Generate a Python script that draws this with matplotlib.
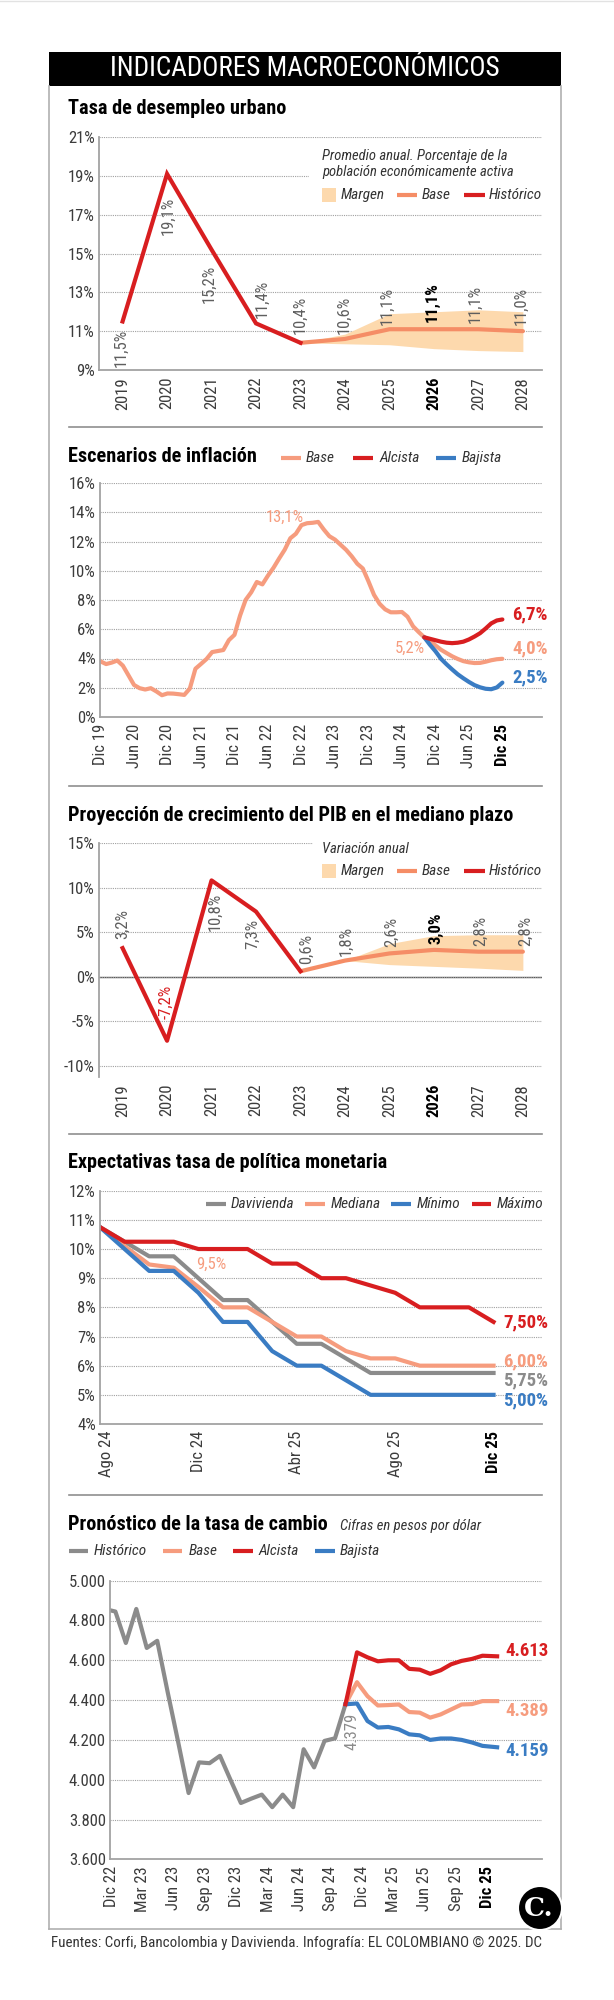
import matplotlib
matplotlib.use('Agg')
import matplotlib.pyplot as plt
import matplotlib.font_manager as fm
from matplotlib.lines import Line2D
from matplotlib.patches import Rectangle, Ellipse
from matplotlib.transforms import ScaledTranslation

# ---- fonts: look for a condensed face
names = {f.name for f in fm.fontManager.ttflist}
FONT, STRETCH = 'DejaVu Sans', 'normal'
for cand in ['Roboto Condensed', 'Liberation Sans Narrow']:
    if cand in names:
        FONT = cand
        break
else:
    for fam in ['Noto Sans', 'DejaVu Sans', 'Open Sans', 'Roboto']:
        if any(f.name == fam and str(f.stretch) != 'normal' for f in fm.fontManager.ttflist):
            FONT, STRETCH = fam, 'condensed'
            break
plt.rcParams['font.family'] = [FONT, 'DejaVu Sans']
plt.rcParams['font.stretch'] = STRETCH

# ---- data
years = [2019, 2020, 2021, 2022, 2023, 2024, 2025, 2026, 2027, 2028]
unemp_hist = [11.5, 19.1, 15.2, 11.4, 10.4]
unemp_base = [10.4, 10.6, 11.1, 11.1, 11.1, 11.0]
unemp_lo = [10.4, 10.35, 10.3, 10.1, 10.0, 9.95]
unemp_hi = [10.4, 10.85, 11.9, 12.0, 12.1, 12.0]

infl_hist = [3.80, 3.62, 3.72, 3.86, 3.51, 2.85, 2.19, 1.97, 1.88, 1.97, 1.75, 1.49, 1.61,
             1.60, 1.56, 1.51, 1.95, 3.30, 3.63, 3.97, 4.44, 4.51, 4.58, 5.26, 5.62,
             6.94, 8.01, 8.53, 9.23, 9.07, 9.67, 10.21, 10.84, 11.44, 12.22, 12.53, 13.12,
             13.25, 13.28, 13.34, 12.82, 12.36, 12.13, 11.78, 11.43, 10.99, 10.48, 10.15, 9.28,
             8.35, 7.74, 7.36, 7.16, 7.16, 7.18, 6.86, 6.20, 5.81, 5.45]
infl_base = [5.2, 4.9, 4.6, 4.37, 4.15, 3.97, 3.82, 3.74, 3.69, 3.7, 3.78, 3.88, 3.95, 3.98]
infl_alc = [5.45, 5.35, 5.25, 5.15, 5.08, 5.05, 5.08, 5.15, 5.3, 5.5, 5.73, 6.05, 6.4, 6.6, 6.67]
infl_baj = [5.45, 4.95, 4.5, 3.98, 3.6, 3.25, 2.92, 2.65, 2.4, 2.18, 2.03, 1.93, 1.9, 2.02, 2.35]
infl_ticks = ['Dic 19', 'Jun 20', 'Dic 20', 'Jun 21', 'Dic 21', 'Jun 22', 'Dic 22',
              'Jun 23', 'Dic 23', 'Jun 24', 'Dic 24', 'Jun 25', 'Dic 25']

pib_hist = [3.2, -7.2, 10.8, 7.3, 0.6]
pib_base = [0.6, 1.8, 2.6, 3.0, 2.8, 2.8]
pib_lo = [0.6, 1.8, 1.35, 1.15, 0.95, 0.7]
pib_hi = [0.6, 1.8, 3.7, 4.6, 4.7, 4.7]

tpm_davi = [10.75, 10.25, 9.75, 9.75, 9.0, 8.25, 8.25, 7.5, 6.75, 6.75, 6.25, 5.75, 5.75, 5.75, 5.75, 5.75, 5.75]
tpm_med = [10.75, 10.1, 9.47, 9.36, 8.7, 8.0, 8.0, 7.5, 7.0, 7.0, 6.5, 6.25, 6.25, 6.0, 6.0, 6.0, 6.0]
tpm_min = [10.75, 10.0, 9.25, 9.25, 8.5, 7.5, 7.5, 6.5, 6.0, 6.0, 5.5, 5.0, 5.0, 5.0, 5.0, 5.0, 5.0]
tpm_max = [10.75, 10.25, 10.25, 10.25, 10.0, 10.0, 10.0, 9.5, 9.5, 9.0, 9.0, 8.75, 8.5, 8.0, 8.0, 8.0, 7.5]
tpm_ticks = ['Ago 24', 'Dic 24', 'Abr 25', 'Ago 25', 'Dic 25']

fx_hist_m = [0, 0.4, 1.4, 2.4, 3.4, 4.4, 5.4, 6.4, 7.4, 8.4, 9.4, 10.4, 11.4, 12.4, 13.4,
             14.4, 15.4, 16.4, 17.4, 18.4, 19.4, 20.4, 21.4, 22.4]
fx_hist = [4850, 4845, 4687, 4858, 4662, 4698, 4440, 4190, 3933, 4087, 4083, 4120, 4000, 3883,
           3905, 3925, 3862, 3925, 3862, 4153, 4062, 4195, 4208, 4379]
fx_fc_m = [22.4, 23.5, 24.5, 25.5, 26.5, 27.5, 28.5, 29.5, 30.5, 31.5, 32.5, 33.5, 34.5, 35.5, 36.9]
fx_alc = [4379, 4640, 4615, 4595, 4600, 4600, 4557, 4553, 4532, 4550, 4580, 4597, 4607, 4623, 4620]
fx_base = [4379, 4490, 4420, 4373, 4375, 4378, 4340, 4337, 4312, 4328, 4353, 4378, 4380, 4395, 4395]
fx_baj = [4379, 4383, 4295, 4262, 4265, 4253, 4228, 4223, 4200, 4207, 4207, 4200, 4187, 4170, 4163]
fx_ticks = ['Dic 22', 'Mar 23', 'Jun 23', 'Sep 23', 'Dic 23', 'Mar 24', 'Jun 24', 'Sep 24',
            'Dic 24', 'Mar 25', 'Jun 25', 'Sep 25', 'Dic 25']

# ---- colours
RED = '#d81e20'
SALMON = '#f69c7e'
ORANGE = '#f58d66'
BLUE = '#3a7cc3'
GRAY = '#8b8b8b'
PEACH = '#fdd9ad'
TICK = '#3c3c3c'
LBL = '#5e5e5e'
GRID = '#a0a0a0'
LW = 3.0

W, H = 614, 2000
fig = plt.figure(figsize=(W / 100, H / 100), dpi=100)


def box(l, t, r, b):
    return [l / W, 1 - b / H, (r - l) / W, (b - t) / H]


def txt(x, y, s, **kw):
    kw.setdefault('va', 'center')
    return fig.text(x / W, 1 - y / H, s, **kw)


def seg(xs, ys, **kw):
    fig.add_artist(Line2D([x / W for x in xs], [1 - y / H for y in ys], **kw))


def pct(v):
    return ('%.1f' % v).replace('.', ',') + '%'


def style(ax, xlim, ylim, yt, ylab, xt, xlab, bold_idx, bottom=True):
    ax.set_xlim(xlim)
    ax.set_ylim(ylim)
    ax.set_yticks(yt)
    ax.set_yticklabels(ylab)
    ax.set_xticks(xt)
    ax.set_xticklabels(xlab, rotation=90)
    ax.tick_params(length=0, labelsize=12, colors=TICK)
    ax.tick_params(axis='y', pad=3)
    ax.tick_params(axis='x', pad=5)
    ax.get_xticklabels()[bold_idx].set_fontweight('bold')
    ax.get_xticklabels()[bold_idx].set_color('black')
    ax.grid(axis='y', color=GRID, linestyle=(0, (1, 1)), lw=0.8)
    ax.set_axisbelow(True)
    ax.patch.set_alpha(0)
    for s in ['top', 'right']:
        ax.spines[s].set_visible(False)
    ax.spines['left'].set_color('#a3a3a3')
    ax.spines['left'].set_linewidth(1.3)
    ax.spines['bottom'].set_color('#a3a3a3')
    ax.spines['bottom'].set_linewidth(1.3)
    ax.spines['bottom'].set_visible(bottom)


def legend_lines(items, y, size=11):
    for x0, x1, xt, col, lab in items:
        seg([x0, x1], [y, y], color=col, lw=LW, solid_capstyle='butt', zorder=4)
        txt(xt, y, lab, size=size, style='italic', color='#333333', zorder=4)


# ---- frame
fig.add_artist(Rectangle((49 / W, 1 - 86 / H), 512 / W, 34 / H, transform=fig.transFigure,
                         facecolor='black', edgecolor='none'))
txt(305, 69, 'INDICADORES MACROECONÓMICOS', size=19.5, color='white', ha='center')
seg([49, 49], [86, 1929], color='#b0b0b0', lw=1.2)
seg([561, 561], [86, 1929], color='#b0b0b0', lw=1.2)
seg([49, 561], [1929, 1929], color='#b0b0b0', lw=1.2)
for y in [427, 786, 1134, 1495]:
    seg([68.5, 542], [y, y], color='#8f8f8f', lw=1.2)
seg([0, W], [0.5, 0.5], color='#e2e2e2', lw=1)

TITLE = dict(size=14.6, weight='bold', color='black')

# ---- panel 1: desempleo
txt(68, 109, 'Tasa de desempleo urbano', **TITLE)
ax1 = fig.add_axes(box(99, 137, 542, 370))
ax1.fill_between(years[4:], unemp_lo, unemp_hi, color=PEACH, lw=0)
ax1.plot(years[4:], unemp_base, color=ORANGE, lw=LW, solid_capstyle='round')
ax1.plot(years[:5], unemp_hist, color=RED, lw=LW, solid_joinstyle='miter')
style(ax1, (2018.47, 2028.43), (9, 21), range(9, 22, 2), ['%d%%' % v for v in range(9, 22, 2)],
      years, [str(y) for y in years], 7)
u_vals = unemp_hist[:4] + unemp_base
u_off = [(-1.5, -7), (1.4, -23), (-2, -15), (6, 5), (0, 9), (-0.5, 5), (-2, 4), (-2, 7), (-3, 6), (-2, 6)]
for i, (yr, v) in enumerate(zip(years, u_vals)):
    dx, dy = u_off[i]
    ax1.annotate(pct(v), (yr, v), xytext=(dx * 0.72, dy * 0.72), textcoords='offset points',
                 rotation=90, ha='center', va='top' if dy < 0 else 'bottom', size=12,
                 color='black' if yr == 2026 else LBL, weight='bold' if yr == 2026 else 'normal')
fig.add_artist(Rectangle((309 / W, 1 - 206 / H), 236 / W, 60 / H, transform=fig.transFigure,
                         facecolor='white', edgecolor='none', zorder=3))
txt(322, 156, 'Promedio anual. Porcentaje de la', size=10.5, style='italic', color='#333333', zorder=4)
txt(322, 172, 'población económicamente activa', size=10.5, style='italic', color='#333333', zorder=4)
fig.add_artist(Rectangle((322 / W, 1 - 202 / H), 14 / W, 14 / H, transform=fig.transFigure,
                         facecolor=PEACH, edgecolor='none', zorder=4))
txt(341, 195, 'Margen', size=11, style='italic', color='#333333', zorder=4)
legend_lines([(397, 417, 422, ORANGE, 'Base'), (464, 485, 489, RED, 'Histórico')], 195)

# ---- panel 2: inflación
txt(68, 456, 'Escenarios de inflación', **TITLE)
legend_lines([(281, 301, 306, SALMON, 'Base'), (353, 373, 379, RED, 'Alcista'),
              (436, 456, 462, BLUE, 'Bajista')], 458)
ax2 = fig.add_axes(box(100, 483, 542, 717))
m_hist = list(range(len(infl_hist)))
m_fc = list(range(len(infl_hist) - 1, len(infl_hist) - 1 + len(infl_alc)))
ax2.plot(m_hist + m_fc[1:], infl_hist + infl_base, color=SALMON, lw=LW, solid_capstyle='round')
ax2.plot(m_fc, infl_baj, color=BLUE, lw=LW, solid_capstyle='round')
ax2.plot(m_fc, infl_alc, color=RED, lw=LW, solid_capstyle='round')
style(ax2, (-0.1, 79.1), (0, 16), range(0, 17, 2), ['%d%%' % v for v in range(0, 17, 2)],
      range(0, 73, 6), infl_ticks, 12)
txt(285, 517, pct(13.1), size=12, color=SALMON, ha='center')
txt(425, 648, pct(infl_base[0]), size=12, color=SALMON, ha='right')
txt(512, 614, pct(6.7), size=13.5, weight='bold', color=RED)
txt(512, 648, pct(4.0), size=13.5, weight='bold', color=SALMON)
txt(512, 677, pct(2.5), size=13.5, weight='bold', color=BLUE)

# ---- panel 3: PIB
txt(68, 816, 'Proyección de crecimiento del PIB en el mediano plazo', **TITLE)
ax3 = fig.add_axes(box(99, 843, 542, 1077))
ax3.fill_between(years[4:], pib_lo, pib_hi, color=PEACH, lw=0)
ax3.plot(years[4:], pib_base, color=ORANGE, lw=LW, solid_capstyle='round')
ax3.plot(years[:5], pib_hist, color=RED, lw=LW)
ax3.axhline(0, color='#555555', lw=1, zorder=0.5)
style(ax3, (2018.47, 2028.43), (-11.27, 15), range(-10, 16, 5), ['%d%%' % v for v in range(-10, 16, 5)],
      years, [str(y) for y in years], 7, bottom=False)
p_vals = pib_hist[:4] + pib_base
p_off = [(0.5, 9), (-0.6, 22), (3.3, -12), (-3.5, -7), (6.3, 7), (1.5, 5), (2, 6), (1.8, 6), (2.3, 6), (2.8, 6)]
for i, (yr, v) in enumerate(zip(years, p_vals)):
    dx, dy = p_off[i]
    col = RED if v < 0 else ('black' if yr == 2026 else LBL)
    ax3.annotate(pct(v), (yr, v), xytext=(dx * 0.72, dy * 0.72), textcoords='offset points',
                 rotation=90, ha='center', va='top' if dy < 0 else 'bottom', size=12,
                 color=col, weight='bold' if yr == 2026 else 'normal')
fig.add_artist(Rectangle((313 / W, 1 - 882 / H), 232 / W, 45 / H, transform=fig.transFigure,
                         facecolor='white', edgecolor='none', zorder=3))
txt(322, 849, 'Variación anual', size=10.5, style='italic', color='#333333', zorder=4)
fig.add_artist(Rectangle((322 / W, 1 - 878 / H), 14 / W, 14 / H, transform=fig.transFigure,
                         facecolor=PEACH, edgecolor='none', zorder=4))
txt(341, 871, 'Margen', size=11, style='italic', color='#333333', zorder=4)
legend_lines([(397, 417, 422, ORANGE, 'Base'), (464, 485, 489, RED, 'Histórico')], 871)

# ---- panel 4: TPM
txt(68, 1162, 'Expectativas tasa de política monetaria', **TITLE)
ax4 = fig.add_axes(box(100, 1190.7, 542, 1424))
m4 = list(range(len(tpm_max)))
ax4.plot(m4, tpm_davi, color=GRAY, lw=LW)
ax4.plot(m4, tpm_med, color=SALMON, lw=LW)
ax4.plot(m4, tpm_min, color=BLUE, lw=LW)
ax4.plot(m4, tpm_max, color=RED, lw=LW)
style(ax4, (0, 17.97), (4, 12), range(4, 13), ['%d%%' % v for v in range(4, 13)],
      range(0, 17, 4), tpm_ticks, 4)
lab0 = ax4.get_xticklabels()[0]
lab0.set_transform(lab0.get_transform() + ScaledTranslation(0.065, 0, fig.dpi_scale_trans))
legend_lines([(206, 226, 231, GRAY, 'Davivienda'), (305, 325, 331, SALMON, 'Mediana'),
              (391.5, 411, 417, BLUE, 'Mínimo'), (472, 491, 496.5, RED, 'Máximo')], 1204)
txt(211, 1264, pct(tpm_med[2]), size=12, color=SALMON, ha='center')
for y, v, c in [(1322, tpm_max[-1], RED), (1361, tpm_med[-1], SALMON),
                (1380, tpm_davi[-1], GRAY), (1400, tpm_min[-1], BLUE)]:
    txt(503, y, ('%.2f' % v).replace('.', ',') + '%', size=13.5, weight='bold', color=c)

# ---- panel 5: tasa de cambio
txt(68, 1524, 'Pronóstico de la tasa de cambio', **TITLE)
txt(340, 1526, 'Cifras en pesos por dólar', size=10.5, style='italic', color='#333333')
legend_lines([(68.5, 88, 94, GRAY, 'Histórico'), (162.5, 182, 189, SALMON, 'Base'),
              (233, 252.5, 258, RED, 'Alcista'), (315, 335, 340, BLUE, 'Bajista')], 1551)
ax5 = fig.add_axes(box(110, 1580.7, 542, 1859.3))
ax5.plot(fx_hist_m, fx_hist, color=GRAY, lw=LW)
ax5.plot(fx_fc_m, fx_base, color=SALMON, lw=LW)
ax5.plot(fx_fc_m, fx_baj, color=BLUE, lw=LW)
ax5.plot(fx_fc_m, fx_alc, color=RED, lw=LW)
yt5 = list(range(3600, 5001, 200))
style(ax5, (-0.115, 41.19), (3600, 5000), yt5, ['{:,}'.format(v).replace(',', '.') for v in yt5],
      range(0, 37, 3), fx_ticks, 12)
ax5.annotate('{:,}'.format(fx_hist[-1]).replace(',', '.'), (fx_hist_m[-1], fx_hist[-1]),
             xytext=(4.5, -6), textcoords='offset points', rotation=90, ha='center', va='top',
             size=12, color=GRAY)
txt(505, 1651, '4.613', size=13.5, weight='bold', color=RED)
txt(505, 1711, '4.389', size=13.5, weight='bold', color=SALMON)
txt(505, 1751, '4.159', size=13.5, weight='bold', color=BLUE)

# ---- footer and logo
txt(50.7, 1943, 'Fuentes: Corfi, Bancolombia y Davivienda. Infografía: EL COLOMBIANO © 2025. DC',
    size=10.8, color='#333333')
fig.add_artist(Ellipse((540 / W, 1 - 1908 / H), 44 / W, 44 / H, transform=fig.transFigure,
                       facecolor='black', edgecolor='white', lw=1.5, zorder=5))
txt(539, 1909, 'C.', size=19, weight='bold', color='white', ha='center', family='DejaVu Serif', zorder=6)

fig.savefig('out.png', dpi=100, facecolor='white')
